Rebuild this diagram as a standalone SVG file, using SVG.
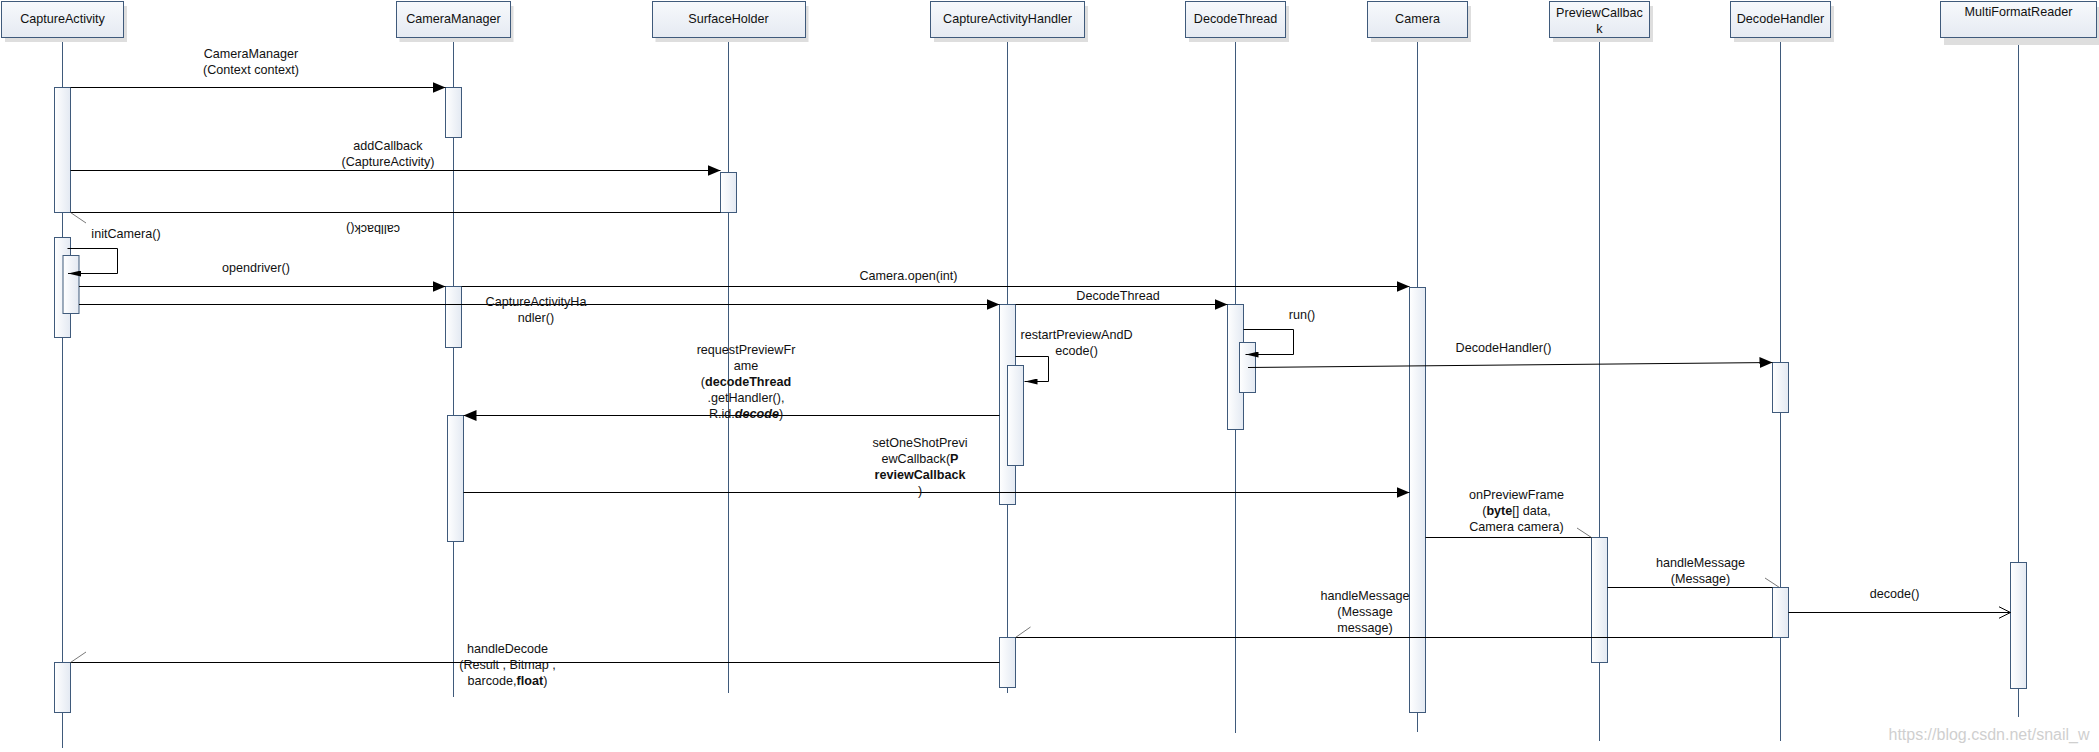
<svg xmlns="http://www.w3.org/2000/svg" width="2099" height="752" viewBox="0 0 2099 752">
<defs>
<linearGradient id="hdr" x1="0" y1="0" x2="0" y2="1"><stop offset="0" stop-color="#f7f9fc"/><stop offset="1" stop-color="#e5eaf2"/></linearGradient>
<linearGradient id="act" x1="0" y1="0" x2="1" y2="0"><stop offset="0" stop-color="#ffffff"/><stop offset="1" stop-color="#e3e9f2"/></linearGradient>
<marker id="fa" viewBox="0 0 13 11" refX="13" refY="5.5" markerWidth="13" markerHeight="11" markerUnits="userSpaceOnUse" orient="auto"><path d="M0,0 L13,5.5 L0,11 Z" fill="#000"/></marker>
<marker id="sa" viewBox="0 0 13 6" refX="13" refY="3" markerWidth="13" markerHeight="6" markerUnits="userSpaceOnUse" orient="auto"><path d="M0,0 L13,3 L0,6 Z" fill="#000"/></marker>
<marker id="oa" viewBox="0 0 13 13" refX="12" refY="6.5" markerWidth="13" markerHeight="13" markerUnits="userSpaceOnUse" orient="auto"><path d="M0,0.5 L12,6.5 L0,12.5" fill="none" stroke="#000" stroke-width="1"/></marker>
</defs>
<style>
text{font-family:"Liberation Sans",Arial,sans-serif;font-size:12.6px;fill:#111;text-anchor:middle}
.shadow{fill:#dedede}
.hbox{fill:url(#hdr);stroke:#3f5a7b;stroke-width:1}
.life{stroke:#3f5a7b;stroke-width:1;fill:none}
.act{fill:url(#act);stroke:#3f5a7b;stroke-width:1}
.msg{stroke:#000;stroke-width:1;fill:none}
.tick{stroke:#555;stroke-width:0.8;fill:none}
.b{font-weight:bold}
.bi{font-weight:bold;font-style:italic}
.wm{fill:#cfcfcf;font-size:16px}
</style>
<rect width="2099" height="752" fill="#fff"/>

<g id="lifelines">
<line class="life" x1="62.5" y1="37.5" x2="62.5" y2="748"/>
<line class="life" x1="453.5" y1="37.5" x2="453.5" y2="697"/>
<line class="life" x1="728.5" y1="37.5" x2="728.5" y2="693"/>
<line class="life" x1="1007.5" y1="37.5" x2="1007.5" y2="693"/>
<line class="life" x1="1235.5" y1="37.5" x2="1235.5" y2="733"/>
<line class="life" x1="1417.5" y1="37.5" x2="1417.5" y2="732"/>
<line class="life" x1="1599.5" y1="37.5" x2="1599.5" y2="741"/>
<line class="life" x1="1780.5" y1="37.5" x2="1780.5" y2="741"/>
<line class="life" x1="2018.5" y1="37.5" x2="2018.5" y2="717"/>
</g>

<g id="CaptureActivity">
<rect class="shadow" x="5" y="6" width="122" height="36"/>
<rect class="hbox" x="1.5" y="1.5" width="122" height="36"/>
<text x="62.5" y="23">CaptureActivity</text>
<rect class="act" x="54.5" y="87.5" width="16" height="125"/>
<rect class="act" x="54.5" y="237.5" width="16" height="100"/>
<rect class="act" x="63" y="255.5" width="16" height="58"/>
<rect class="act" x="54.5" y="662.5" width="16" height="50"/>
</g>

<g id="CameraManager">
<rect class="shadow" x="399.5" y="6" width="114" height="36"/>
<rect class="hbox" x="396.5" y="1.5" width="114" height="36"/>
<text x="453.5" y="23">CameraManager</text>
<rect class="act" x="445.5" y="87.5" width="16" height="50"/>
<rect class="act" x="445.5" y="286.5" width="16" height="61"/>
<rect class="act" x="447.5" y="415.5" width="16" height="126"/>
</g>

<g id="SurfaceHolder">
<rect class="shadow" x="655.5" y="6" width="153" height="36"/>
<rect class="hbox" x="652.5" y="1.5" width="153" height="36"/>
<text x="728.5" y="23">SurfaceHolder</text>
<rect class="act" x="720.5" y="172.5" width="16" height="40"/>
</g>

<g id="CaptureActivityHandler">
<rect class="shadow" x="934" y="6" width="154" height="36"/>
<rect class="hbox" x="930.5" y="1.5" width="154" height="36"/>
<text x="1007.5" y="23">CaptureActivityHandler</text>
<rect class="act" x="999.5" y="304.5" width="16" height="200"/>
<rect class="act" x="1007.5" y="365.5" width="16" height="100"/>
<rect class="act" x="999.5" y="637.5" width="16" height="50"/>
</g>

<g id="DecodeThread">
<rect class="shadow" x="1189" y="6" width="100" height="36"/>
<rect class="hbox" x="1185.5" y="1.5" width="100" height="36"/>
<text x="1235.5" y="23">DecodeThread</text>
<rect class="act" x="1227.5" y="304.5" width="16" height="125"/>
<rect class="act" x="1239.5" y="342.5" width="16" height="50"/>
</g>

<g id="Camera">
<rect class="shadow" x="1371" y="6" width="100" height="36"/>
<rect class="hbox" x="1367.5" y="1.5" width="100" height="36"/>
<text x="1417.5" y="23">Camera</text>
<rect class="act" x="1409.5" y="287.5" width="16" height="425"/>
</g>

<g id="PreviewCallback">
<rect class="shadow" x="1553" y="6" width="100" height="36"/>
<rect class="hbox" x="1549.5" y="1.5" width="100" height="36"/>
<text x="1599.5" y="16.5">PreviewCallbac</text>
<text x="1599.5" y="32.5">k</text>
<rect class="act" x="1591.5" y="537.5" width="16" height="125"/>
</g>

<g id="DecodeHandler">
<rect class="shadow" x="1734" y="6" width="100" height="36"/>
<rect class="hbox" x="1730.5" y="1.5" width="100" height="36"/>
<text x="1780.5" y="23">DecodeHandler</text>
<rect class="act" x="1772.5" y="362.5" width="16" height="50"/>
<rect class="act" x="1772.5" y="587.5" width="16" height="50"/>
</g>

<g id="MultiFormatReader">
<rect class="shadow" x="1944" y="7" width="156" height="38"/>
<rect class="hbox" x="1940.5" y="1.5" width="156" height="36"/>
<text x="2018.5" y="16">MultiFormatReader</text>
<rect class="act" x="2010.5" y="562.5" width="16" height="126"/>
</g>

<g id="connectors">
<line class="msg" x1="70.5" y1="87.5" x2="445.5" y2="87.5" marker-end="url(#fa)"/>
<line class="msg" x1="70.5" y1="170.5" x2="720.5" y2="170.5" marker-end="url(#fa)"/>
<line class="msg" x1="720.5" y1="212.5" x2="70.5" y2="212.5"/>
<line class="tick" x1="70.5" y1="212.5" x2="86" y2="223"/>
<polyline class="msg" points="67.5,248.5 117.5,248.5 117.5,273.5 68,273.5" marker-end="url(#sa)"/>
<line class="msg" x1="79" y1="286.5" x2="445.5" y2="286.5" marker-end="url(#fa)"/>
<line class="msg" x1="461.5" y1="286.5" x2="1409.5" y2="286.5" marker-end="url(#fa)"/>
<line class="msg" x1="79" y1="304.5" x2="999.5" y2="304.5" marker-end="url(#fa)"/>
<line class="msg" x1="1015.5" y1="304.5" x2="1227.5" y2="304.5" marker-end="url(#fa)"/>
<polyline class="msg" points="1015.5,356.5 1048.5,356.5 1048.5,381.5 1024.5,381.5" marker-end="url(#sa)"/>
<polyline class="msg" points="1243.5,329.5 1293.5,329.5 1293.5,354.5 1245.5,354.5" marker-end="url(#sa)"/>
<line class="msg" x1="1248" y1="367.5" x2="1772.5" y2="362.5" marker-end="url(#fa)"/>
<line class="msg" x1="999.5" y1="415.5" x2="463.5" y2="415.5" marker-end="url(#fa)"/>
<line class="msg" x1="463.5" y1="492.5" x2="1409.5" y2="492.5" marker-end="url(#fa)"/>
<line class="msg" x1="1425.5" y1="537.5" x2="1591.5" y2="537.5"/>
<line class="tick" x1="1577" y1="528" x2="1591.5" y2="537.5"/>
<line class="msg" x1="1607.5" y1="587.5" x2="1772.5" y2="587.5"/>
<line class="tick" x1="1765" y1="578" x2="1779.5" y2="587.5"/>
<line class="msg" x1="1788.5" y1="612.5" x2="2010.5" y2="612.5" marker-end="url(#oa)"/>
<line class="msg" x1="1772.5" y1="637.5" x2="1015.5" y2="637.5"/>
<line class="tick" x1="1015.5" y1="637.5" x2="1030.5" y2="627"/>
<line class="msg" x1="999.5" y1="662.5" x2="70.5" y2="662.5"/>
<line class="tick" x1="70.5" y1="662.5" x2="86" y2="652"/>
</g>

<g id="labels">
<text x="251" y="57.5">CameraManager</text>
<text x="251" y="74">(Context context)</text>
<text x="388" y="149.5">addCallback</text>
<text x="388" y="166">(CaptureActivity)</text>
<text transform="translate(373,229) rotate(180)" y="4.5">callback()</text>
<text x="126" y="237.5">initCamera()</text>
<text x="256" y="272">opendriver()</text>
<text x="908.5" y="280">Camera.open(int)</text>
<text x="536" y="305.5">CaptureActivityHa</text>
<text x="536" y="322">ndler()</text>
<text x="1118" y="300">DecodeThread</text>
<text x="1076.5" y="338.5">restartPreviewAndD</text>
<text x="1076.5" y="354.5">ecode()</text>
<text x="1302" y="318.5">run()</text>
<text x="1503.5" y="351.5">DecodeHandler()</text>
<text x="746" y="353.5">requestPreviewFr</text>
<text x="746" y="369.5">ame</text>
<text x="746" y="385.5">(<tspan class="b">decodeThread</tspan></text>
<text x="746" y="401.5">.getHandler(),</text>
<text x="746" y="417.5">R.id.<tspan class="bi">decode</tspan>)</text>
<text x="920" y="447">setOneShotPrevi</text>
<text x="920" y="463">ewCallback(<tspan class="b">P</tspan></text>
<text x="920" y="479" class="b">reviewCallback</text>
<text x="920" y="495">)</text>
<text x="1516.5" y="498.5">onPreviewFrame</text>
<text x="1516.5" y="514.5">(<tspan class="b">byte</tspan>[] data,</text>
<text x="1516.5" y="530.5">Camera camera)</text>
<text x="1700.5" y="566.5">handleMessage</text>
<text x="1700.5" y="582.5">(Message)</text>
<text x="1894.5" y="598">decode()</text>
<text x="1365" y="600">handleMessage</text>
<text x="1365" y="616">(Message</text>
<text x="1365" y="632">message)</text>
<text x="507.5" y="653">handleDecode</text>
<text x="507.5" y="669">(Result , Bitmap ,</text>
<text x="507.5" y="685">barcode,<tspan class="b">float</tspan>)</text>
<text class="wm" x="1989" y="740">https://blog.csdn.net/snail_w</text>
</g>
</svg>
